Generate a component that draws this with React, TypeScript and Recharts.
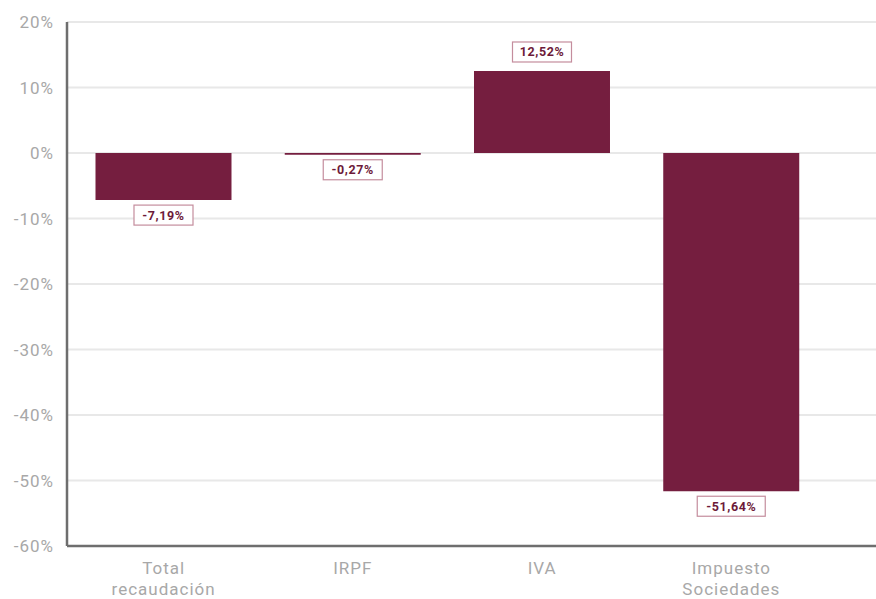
import { BarChart, Bar, XAxis, YAxis, CartesianGrid, LabelList } from 'recharts';

const categories = ['Total recaudación', 'IRPF', 'IVA', 'Impuesto Sociedades'];
const variation = [-7.19, -0.27, 12.52, -51.64];
const yTicks = [20, 10, 0, -10, -20, -30, -40, -50, -60];

const BAR_COLOR = '#751e3f';
const TICK_COLOR = '#a8a8a8';
const FONT = 'Roboto, "Noto Sans", sans-serif';

const formatPct = (v: number) => `${v.toFixed(2).replace('.', ',')}%`;

function ValueLabel(props: any) {
    const x = Number(props.x);
    const y = Number(props.y);
    const width = Number(props.width);
    const height = Number(props.height);
    const value = Number(props.value);
    const top = Math.min(y, y + height);
    const bottom = Math.max(y, y + height);
    const text = formatPct(value);
    const w = text.length * 9 + 5;
    const h = 20;
    const cx = x + width / 2;
    const boxY = value >= 0 ? top - 9 - h : bottom + 5;
    return (
        <g>
            <rect x={cx - w / 2} y={boxY} width={w} height={h} fill="#fff" stroke="#c48d9d" strokeWidth={1.2} />
            <text
                x={cx}
                y={boxY + h / 2}
                dy="0.36em"
                textAnchor="middle"
                fill="#6d1a39"
                fontFamily={FONT}
                fontWeight={700}
                fontSize={12.5}
                letterSpacing={0.6}
            >
                {text}
            </text>
        </g>
    );
}

function CategoryTick(props: any) {
    const { x, y, payload } = props;
    const lines = String(payload.value).split(' ');
    return (
        <text x={x} y={y} textAnchor="middle" fill={TICK_COLOR} fontFamily={FONT} fontSize={17} letterSpacing={1}>
            {lines.map((line, i) => (
                <tspan key={i} x={x} dy={i === 0 ? 28 : 21}>
                    {line}
                </tspan>
            ))}
        </text>
    );
}

export default function App() {
    const data = categories.map((name, i) => ({ name, value: variation[i] }));

    return (
        <div style={{ position: 'absolute', left: 0, top: 0, width: 876, height: 599, background: '#fff' }}>
            <BarChart
                width={876}
                height={599}
                data={data}
                margin={{ top: 22, right: 0, left: 0, bottom: 0 }}
                barCategoryGap="14%"
            >
                <CartesianGrid vertical={false} stroke="#e8e8e8" strokeWidth={2} />
                <XAxis
                    dataKey="name"
                    height={53}
                    padding={{ left: 2, right: 50 }}
                    tickLine={false}
                    tickSize={0}
                    tickMargin={0}
                    axisLine={{ stroke: '#6e6e6e', strokeWidth: 2.5 }}
                    tick={<CategoryTick />}
                    interval={0}
                />
                <YAxis
                    width={67}
                    domain={[-60, 20]}
                    ticks={yTicks}
                    tickFormatter={(v: number) => `${v}%`}
                    tickLine={false}
                    tickSize={0}
                    tickMargin={13}
                    axisLine={{ stroke: '#6e6e6e', strokeWidth: 2.5 }}
                    tick={{ fill: TICK_COLOR, fontSize: 17, fontFamily: FONT, letterSpacing: 1 }}
                    interval={0}
                />
                <Bar dataKey="value" fill={BAR_COLOR} isAnimationActive={false}>
                    <LabelList dataKey="value" content={<ValueLabel />} />
                </Bar>
            </BarChart>
        </div>
    );
}
